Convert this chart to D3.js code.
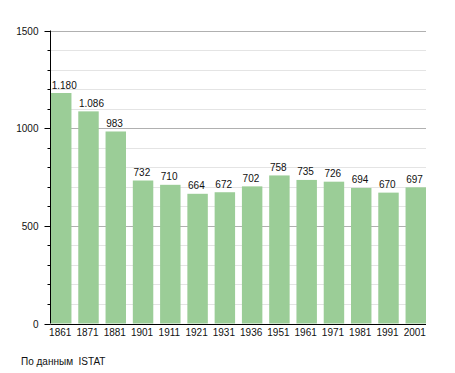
<!DOCTYPE html>
<html>
<head>
<meta charset="utf-8">
<script src="https://cdn.jsdelivr.net/npm/d3@7"></script>
<style>
  body { margin: 0; background: #fff; }
  svg text { font-family: "Liberation Sans", Arial, sans-serif; }
</style>
</head>
<body>
<svg id="chart" width="455" height="373"></svg>
<script>
// census years and population
const years = ["1861", "1871", "1881", "1901", "1911", "1921", "1931", "1936", "1951", "1961", "1971", "1981", "1991", "2001"];
const population = [1180, 1086, 983, 732, 710, 664, 672, 702, 758, 735, 726, 694, 670, 697];
const yTicks = [0, 500, 1000, 1500];

const w = 455, h = 373;
const plotLeft = 50.5, plotRight = 426, plotTop = 30.5, plotBottom = 323.5;

let svg = d3.select("#chart");

let x = d3.scaleBand()
    .domain(years)
    .range([51, plotRight])
    .paddingInner(0.25)
    .paddingOuter(0);

let y = d3.scaleLinear()
    .domain([0, 1500])
    .range([plotBottom, plotTop]);

// minor grid every 100
let minor = d3.range(100, 1501, 100).filter(v => v % 500 != 0);
svg.append("g").selectAll("line")
    .data(minor)
    .enter()
    .append("line")
    .attr("x1", plotLeft).attr("x2", plotRight)
    .attr("y1", d => Math.round(y(d)) + 0.5).attr("y2", d => Math.round(y(d)) + 0.5)
    .attr("stroke", "#e4e4e4");

// major grid
svg.append("g").selectAll("line")
    .data(yTicks.filter(v => v > 0))
    .enter()
    .append("line")
    .attr("x1", plotLeft).attr("x2", plotRight)
    .attr("y1", d => Math.round(y(d)) + 0.5).attr("y2", d => Math.round(y(d)) + 0.5)
    .attr("stroke", "#b0b0b0");

// bars
svg.append("g").selectAll("rect")
    .data(population)
    .enter()
    .append("rect")
    .attr("x", (d, i) => x(years[i]))
    .attr("y", d => y(d))
    .attr("width", x.bandwidth())
    .attr("height", d => y(0) - y(d))
    .attr("fill", "#9bcd97");

// value labels (Italian thousand separator), left aligned to the bar
let fmt = d => d >= 1000 ? Math.floor(d / 1000) + "." + String(d % 1000).padStart(3, "0") : String(d);
svg.append("g").selectAll("text")
    .data(population)
    .enter()
    .append("text")
    .attr("x", (d, i) => x(years[i]) + 0.7)
    .attr("y", d => y(d) - 4.5)
    .attr("text-anchor", "start")
    .attr("font-size", 10)
    .attr("fill", "#111")
    .text(fmt);

// y axis
let yAxis = d3.axisLeft(y)
    .tickValues(d3.range(0, 1501, 100))
    .tickSize(4)
    .tickFormat(d => d % 500 == 0 ? d : "");
let ya = svg.append("g")
    .attr("transform", "translate(" + plotLeft + ",0)")
    .call(yAxis);
ya.select(".domain").attr("stroke", "#000").attr("d", "M0," + y(1500) + "V" + y(0));
ya.selectAll(".tick").attr("transform", d => "translate(0," + (Math.round(y(d)) + 0.5) + ")");
ya.selectAll(".tick line").attr("stroke", "#000").attr("x2", d => d % 500 == 0 ? -6 : -3);
ya.selectAll(".tick text")
    .attr("x", -12)
    .attr("font-size", 10)
    .attr("fill", "#111")
    .style("font-family", "'Liberation Sans', Arial, sans-serif");

// x axis
let xAxis = d3.axisBottom(x).tickSize(0);
let xa = svg.append("g")
    .attr("transform", "translate(0," + (Math.round(y(0)) + 0.5) + ")")
    .call(xAxis);
xa.select(".domain").attr("stroke", "#000").attr("d", "M" + plotLeft + ",0H" + plotRight);
xa.selectAll(".tick text")
    .attr("x", -1)
    .attr("y", 4)
    .attr("font-size", 10)
    .attr("fill", "#111")
    .style("font-family", "'Liberation Sans', Arial, sans-serif");

// source note
svg.append("text")
    .attr("x", 21)
    .attr("y", 365)
    .attr("font-size", 10)
    .attr("fill", "#111")
    .attr("xml:space", "preserve")
    .text("По данным  ISTAT");
</script>
</body>
</html>
